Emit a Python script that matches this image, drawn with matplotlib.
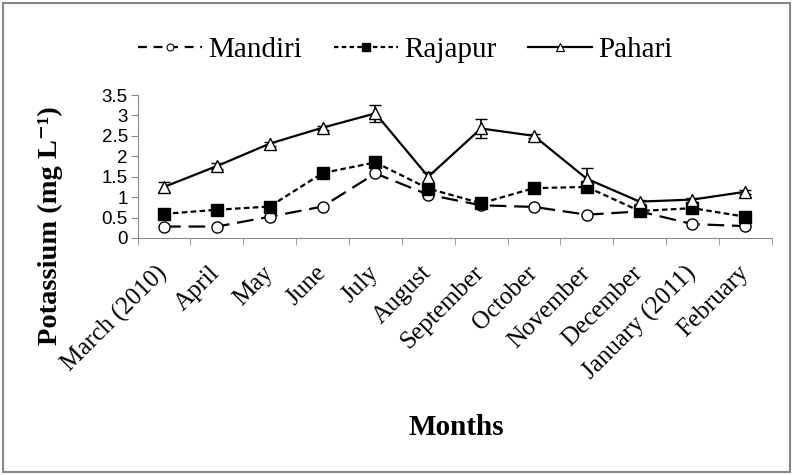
import matplotlib.pyplot as plt
from matplotlib.lines import Line2D
from matplotlib.font_manager import FontProperties
from matplotlib.transforms import ScaledTranslation
import numpy as np

months = ["March (2010)", "April", "May", "June", "July", "August", "September",
          "October", "November", "December", "January (2011)", "February"]

mandiri = [0.28, 0.28, 0.52, 0.77, 1.58, 1.06, 0.80, 0.76, 0.57, 0.65, 0.34, 0.29]
rajapur = [0.59, 0.69, 0.77, 1.59, 1.85, 1.21, 0.85, 1.22, 1.25, 0.66, 0.73, 0.52]
pahari = [1.25, 1.76, 2.31, 2.70, 3.05, 1.50, 2.68, 2.50, 1.45, 0.89, 0.94, 1.13]
pahari_err = [0.13, 0.07, 0.05, 0.05, 0.20, 0.12, 0.24, 0.05, 0.27, 0.05, 0.05, 0.05]

serif = ["Liberation Serif", "DejaVu Serif"]

fig = plt.figure(figsize=(7.93, 4.75), dpi=100)
ax = fig.add_axes([0.1736, 0.499, 0.7995, 0.301])

x = np.arange(len(months))

ax.plot(x, mandiri, color="black", lw=1.6, dashes=(7.5, 3.5), marker="o",
        markersize=8, markerfacecolor="white", markeredgecolor="black",
        markeredgewidth=1.0, zorder=3)
ax.plot(x, rajapur, color="black", lw=1.6, dashes=(2.5, 1.5), marker="s",
        markersize=8.5, markerfacecolor="black", markeredgecolor="black",
        zorder=4)
ax.errorbar(x, pahari, yerr=pahari_err, color="black", lw=1.6, marker="^",
            markersize=8.5, markerfacecolor="white", markeredgecolor="black",
            markeredgewidth=1.0, ecolor="black", elinewidth=1.2, capsize=4,
            capthick=1.6, zorder=5)

ax.set_xlim(-0.5, len(months) - 0.5)
ax.set_ylim(0, 3.5)
ax.set_yticks(np.arange(0, 3.51, 0.5))
ax.set_yticklabels(["0", "0.5", "1", "1.5", "2", "2.5", "3", "3.5"],
                   family=["Liberation Sans", "DejaVu Sans"], fontsize=13.5)
ax.tick_params(axis="y", length=5, color="#888888", pad=2)

ax.set_xticks(x)
ax.set_xticklabels(months, rotation=45, ha="right", rotation_mode="anchor",
                   family=serif, fontsize=18)
ax.set_xticks(np.arange(-0.5, len(months)), minor=True)
ax.tick_params(axis="x", which="major", length=0, pad=10)
ax.tick_params(axis="x", which="minor", length=5, color="#888888")

# nudge the rotated month labels down and left like the original
shift = ScaledTranslation(-0.08, -0.10, fig.dpi_scale_trans)
for lab in ax.get_xticklabels():
    lab.set_transform(lab.get_transform() + shift)

for s in ["top", "right"]:
    ax.spines[s].set_visible(False)
for s in ["left", "bottom"]:
    ax.spines[s].set_color("#888888")

fig.text(0.063, 0.524, "Potassium (mg L\u207b\u00b9)", family=serif,
         fontsize=20.5, fontweight="bold", rotation=90, ha="center", va="center")
fig.text(0.575, 0.101, "Months", family=serif, fontsize=21,
         fontweight="bold", ha="center", va="center")

handles = [
    Line2D([], [], color="black", lw=1.6, dashes=(4, 3), marker="o",
           markersize=5, markerfacecolor="white", markeredgewidth=0.8),
    Line2D([], [], color="black", lw=1.6, dashes=(2, 1.5), marker="s",
           markersize=6, markerfacecolor="black"),
    Line2D([], [], color="black", lw=1.6, marker="^", markersize=6,
           markerfacecolor="white", markeredgewidth=0.8),
]
fig.legend(handles, ["Mandiri", "Rajapur", "Pahari"], loc="center",
           bbox_to_anchor=(0.511, 0.895), ncol=3, frameon=False,
           prop=FontProperties(family="Liberation Serif", size=21),
           handlelength=2.2, columnspacing=1.1, handletextpad=0.2)

# outer frame
fig.patches.append(plt.Rectangle((0.004, 0.006), 0.992, 0.988,
                                 transform=fig.transFigure, fill=False,
                                 edgecolor="#888888", lw=1.5))

fig.savefig("out.png", dpi=100)
